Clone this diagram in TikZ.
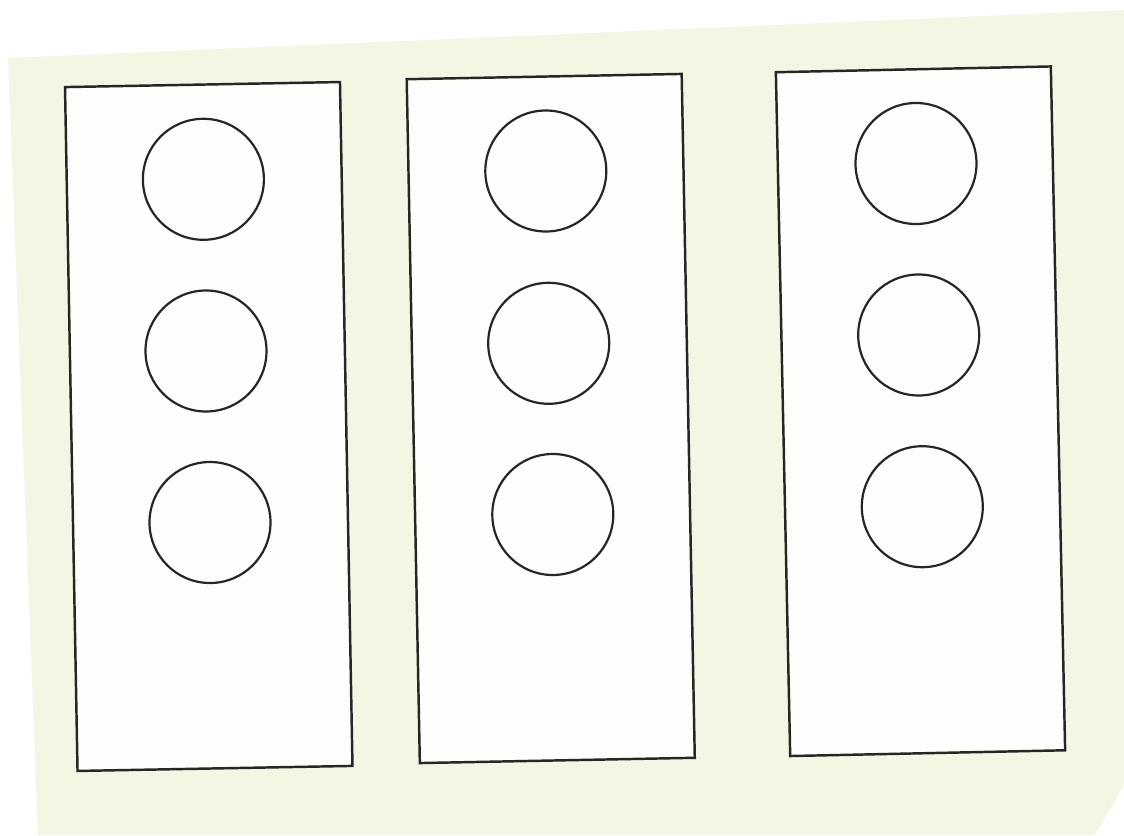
\documentclass[tikz,border=0pt]{standalone}
\usepackage{tikz}
\usetikzlibrary{positioning}
\definecolor{paper}{HTML}{F3F6E3}
\definecolor{card}{HTML}{FDFDFB}
\definecolor{ink}{HTML}{262626}

\begin{document}
\begin{tikzpicture}[
        panel/.style={rectangle, draw=ink, line width=1.4pt, fill=card,
                      minimum width=5.5cm, minimum height=13.68cm, inner sep=0pt},
        lamp/.style={circle, draw=ink, line width=1.25pt, minimum size=2.42cm, inner sep=0pt}
      ]
        \useasboundingbox (0,0) rectangle (22.48,16.70);
        \fill[paper] (0.16,15.54) -- (22.48,16.5) -- (22.48,1.0) -- (21.9,0) -- (0.76,0) -- cycle;
        % the three panels
        \node[panel, rotate=1.05] (p1) at (4.175,8.17) {};
        \node[panel, rotate=1.1] (p2) at (11.015,8.33) {};
        \node[panel, rotate=1.2] (p3) at (18.41,8.475) {};
        % three lamps in each panel
        \node[lamp] (p1top) at (4.068,13.114) {};
        \node[lamp] (p1mid) at (4.12,9.68) {};
        \node[lamp] (p1bot) at (4.2,6.25) {};
        \node[lamp] (p2top) at (10.916,13.28) {};
        \node[lamp] (p2mid) at (10.974,9.834) {};
        \node[lamp] (p2bot) at (11.056,6.41) {};
        \node[lamp] (p3top) at (18.32,13.43) {};
        \node[lamp] (p3mid) at (18.374,10.0) {};
        \node[lamp] (p3bot) at (18.446,6.566) {};
      \end{tikzpicture}
\end{document}
